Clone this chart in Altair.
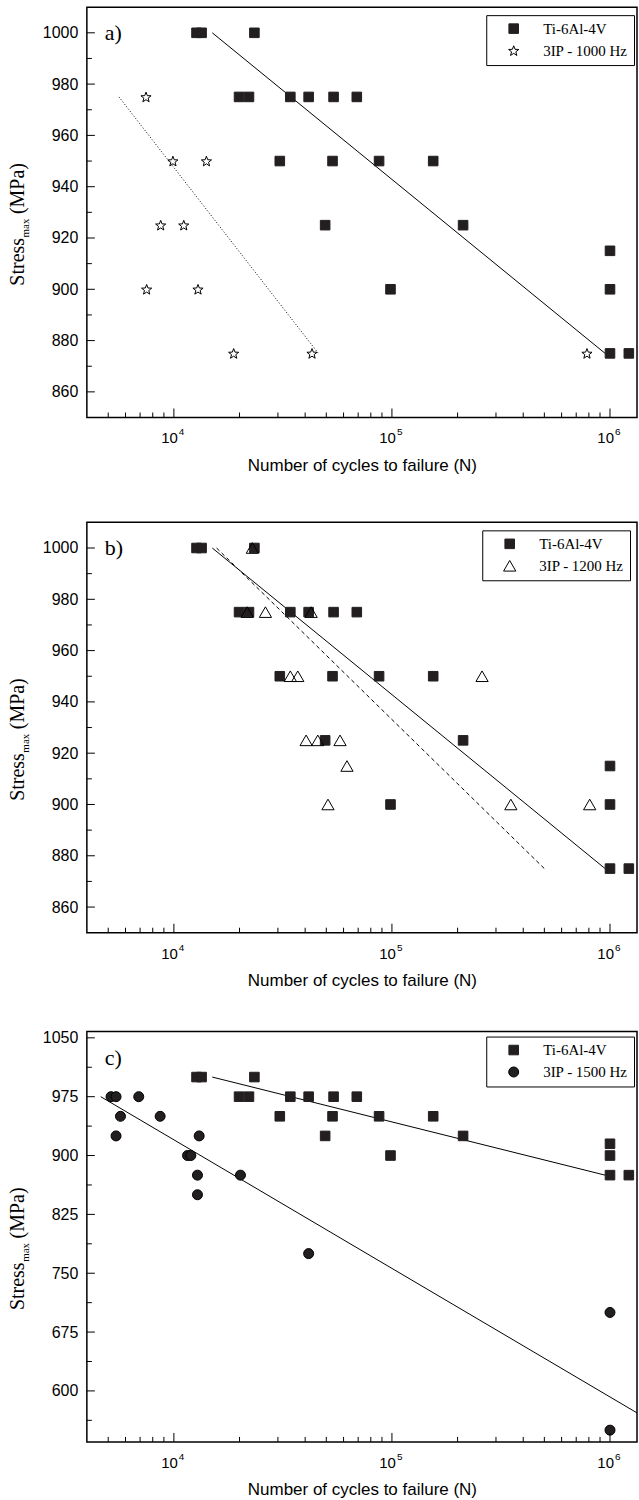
import math
import altair as alt
import pandas as pd

# ---------------- data ----------------
TI = "Ti-6Al-4V"
ti_N = [12700, 13400, 23400, 19900, 22100, 34200, 41500, 54000, 69000,
        30600, 53400, 87300, 154600, 49400, 212000, 98500,
        1000000, 1000000, 1000000, 1220000]
ti_S = [1000, 1000, 1000, 975, 975, 975, 975, 975, 975,
        950, 950, 950, 950, 925, 925, 900,
        915, 900, 875, 875]

a_label = "3IP - 1000 Hz"
a_N = [7450, 9900, 14100, 8700, 11100, 7500, 12900, 18800, 43000, 784000]
a_S = [975, 950, 950, 925, 925, 900, 900, 875, 875, 875]

b_label = "3IP - 1200 Hz"
b_N = [22900, 21700, 26300, 42600, 34200, 37000, 259000, 40400, 45700,
       57800, 62200, 50900, 351000, 807000]
b_S = [1000, 975, 975, 975, 950, 950, 950, 925, 925, 925, 915, 900, 900, 900]

c_label = "3IP - 1500 Hz"
c_N = [5150, 5430, 6900, 5690, 8650, 5430, 13060, 11550, 11960, 12830,
       20200, 12830, 41500, 1000000, 1000000]
c_S = [975, 975, 975, 950, 950, 925, 925, 900, 900, 875, 875, 850, 775, 700, 550]

# fit lines (end points)
ti_fit_N = [15000, 950000]
ti_fit_S = [1000, 875]
a_fit_N = [5600, 46000]
a_fit_S = [975, 875]
b_fit_N = [15700, 500000]
b_fit_S = [1000, 875]
c_fit_N = [4620, 1330000]
c_fit_S = [975, 572]

# axes
x_domain = [3990, 1330000]
x_major = [10000, 100000, 1000000]
x_exp = ["4", "5", "6"]
x_minor = [5000, 6000, 7000, 8000, 9000,
           20000, 30000, 40000, 50000, 60000, 70000, 80000, 90000,
           200000, 300000, 400000, 500000, 600000, 700000, 800000, 900000]

ab_domain = [850, 1010]
ab_major = [860, 880, 900, 920, 940, 960, 980, 1000]
ab_minor = [870, 890, 910, 930, 950, 970, 990]
c_domain = [535, 1058]
c_major = [600, 675, 750, 825, 900, 975, 1050]
c_minor = [562.5, 637.5, 712.5, 787.5, 862.5, 937.5, 1012.5]

# ---------------- styling ----------------
W, H = 551, 411
DARK = "#231f20"
SANS = "Liberation Sans"
SERIF = "Liberation Serif"
XTITLE = "Number of cycles to failure (N)"


def star_path():
    pts = []
    for k in range(10):
        ang = math.radians(-90 + 36 * k)
        r = 1.0 if k % 2 == 0 else 0.42
        pts.append(f"{r * math.cos(ang):.3f},{r * math.sin(ang) + 0.1:.3f}")
    return "M" + "L".join(pts) + "Z"


STAR = star_path()


def make_legend(lx, ly):
    return alt.Legend(title=" ", titleOrient="left", titlePadding=14, titleFontSize=8,
                      orient="none", legendX=lx, legendY=ly,
                      fillColor="white", strokeColor="black", padding=6,
                      labelFont=SERIF, labelFontSize=15, labelFontWeight="normal",
                      labelColor="black",
                      symbolStrokeColor=DARK, symbolStrokeWidth=1, symbolSize=100,
                      rowPadding=6, labelOffset=22)


def panel(letter, s_N, s_S, s_label, s_shape, s_fill, s_size, fit_N, fit_S, dash,
          ydom, ymaj, ymin, legend):
    xs = alt.Scale(type="log", domain=x_domain, nice=False)
    ys = alt.Scale(domain=ydom, nice=False, zero=False)
    xax = alt.Axis(labels=False, ticks=False, domain=False, grid=False,
                   title=XTITLE, titleFont=SANS, titleFontSize=17,
                   titleFontWeight="normal", titleColor="black", titlePadding=40)
    yax = alt.Axis(values=ymaj, ticks=False, domain=False, grid=False, title=None,
                   format="d", labelFont=SANS, labelFontSize=16, labelColor="black",
                   labelPadding=9)

    def X(f="N"):
        return alt.X(f"{f}:Q", scale=xs, axis=xax)

    def Y(f="S"):
        return alt.Y(f"{f}:Q", scale=ys, axis=yax)

    df = pd.DataFrame({
        "N": ti_N + s_N,
        "S": ti_S + s_S,
        "series": [TI] * len(ti_N) + [s_label] * len(s_N),
        "order": list(range(len(ti_N) + len(s_N))),
    })
    dom = [TI, s_label]
    pts = alt.Chart(df).mark_point(opacity=1, fillOpacity=1, strokeWidth=1).encode(
        x=X(), y=Y(),
        shape=alt.Shape("series:N", scale=alt.Scale(domain=dom, range=["square", s_shape]),
                        legend=legend),
        fill=alt.Fill("series:N", scale=alt.Scale(domain=dom, range=[DARK, s_fill]),
                      legend=legend),
        stroke=alt.Stroke("series:N", scale=alt.Scale(domain=dom, range=[DARK, "black"]),
                          legend=legend),
        size=alt.Size("series:N", scale=alt.Scale(domain=dom, range=[92, s_size]),
                      legend=legend),
        order=alt.Order("order:Q"),
    )

    fit_ti = alt.Chart(pd.DataFrame({"N": ti_fit_N, "S": ti_fit_S})).mark_line(
        color="black", strokeWidth=1, clip=True).encode(x=X(), y=Y())
    fit_s_kw = dict(color="black", strokeWidth=1, clip=True)
    if dash:
        fit_s_kw["strokeDash"] = dash
    fit_s = alt.Chart(pd.DataFrame({"N": fit_N, "S": fit_S})).mark_line(
        **fit_s_kw).encode(x=X(), y=Y())

    # inward ticks
    xt_maj = alt.Chart(pd.DataFrame({"N": x_major})).mark_rule(
        color="black", strokeWidth=1).encode(x=X(), y=alt.value(H), y2=alt.value(H - 9))
    xt_min = alt.Chart(pd.DataFrame({"N": x_minor})).mark_rule(
        color="black", strokeWidth=1).encode(x=X(), y=alt.value(H), y2=alt.value(H - 5))
    yt_maj = alt.Chart(pd.DataFrame({"S": ymaj})).mark_rule(
        color="black", strokeWidth=1).encode(y=Y(), x=alt.value(0), x2=alt.value(8))
    yt_min = alt.Chart(pd.DataFrame({"S": ymin})).mark_rule(
        color="black", strokeWidth=1).encode(y=Y(), x=alt.value(0), x2=alt.value(5))

    # x tick labels 10^n
    xl = pd.DataFrame({"N": x_major, "base": ["10"] * 3, "exp": x_exp})
    xl_base = alt.Chart(xl).mark_text(align="right", baseline="alphabetic", dx=4,
                                      font=SANS, fontSize=15, color="black").encode(
        x=X(), y=alt.value(H + 26), text="base:N")
    xl_exp = alt.Chart(xl).mark_text(align="left", baseline="alphabetic", dx=5,
                                     font=SANS, fontSize=10, color="black").encode(
        x=X(), y=alt.value(H + 18), text="exp:N")

    # y title Stress_max (MPa)
    F, f = 20, 11
    w_stress = 2.389 * F
    w_max = 1.722 * f
    w_sp = 0.25 * F
    w_mpa = 2.555 * F
    L = w_stress + w_max + w_sp + w_mpa
    yb = H / 2 + 12 + L / 2
    tx = -63
    t1 = alt.Chart(pd.DataFrame({"t": ["Stress"]})).mark_text(
        align="left", baseline="alphabetic", angle=270, font=SERIF, fontSize=F,
        color="black").encode(text="t:N", x=alt.value(tx), y=alt.value(yb))
    t2 = alt.Chart(pd.DataFrame({"t": ["max"]})).mark_text(
        align="left", baseline="alphabetic", angle=270, font=SERIF, fontSize=f,
        dy=5, color="black").encode(text="t:N", x=alt.value(tx),
                                    y=alt.value(yb - w_stress - 0.5))
    t3 = alt.Chart(pd.DataFrame({"t": ["(MPa)"]})).mark_text(
        align="left", baseline="alphabetic", angle=270, font=SERIF, fontSize=F,
        color="black").encode(text="t:N", x=alt.value(tx),
                              y=alt.value(yb - w_stress - w_max - w_sp))

    lab = alt.Chart(pd.DataFrame({"t": [letter]})).mark_text(
        align="left", baseline="alphabetic", font=SERIF, fontSize=22,
        color="black").encode(text="t:N", x=alt.value(18), y=alt.value(33))

    return alt.layer(fit_ti, fit_s, pts, xt_maj, xt_min, yt_maj, yt_min,
                     xl_base, xl_exp, t1, t2, t3, lab).properties(width=W, height=H)


pa = panel("a)", a_N, a_S, a_label, STAR, "transparent", 115, a_fit_N, a_fit_S, [1, 2],
           ab_domain, ab_major, ab_minor, make_legend(400, 8))
pb = panel("b)", b_N, b_S, b_label, "triangle-up", "transparent", 150, b_fit_N, b_fit_S,
           [4, 3], ab_domain, ab_major, ab_minor, make_legend(396, 8))
pc = panel("c)", c_N, c_S, c_label, "circle", DARK, 100, c_fit_N, c_fit_S, None,
           c_domain, c_major, c_minor, make_legend(400, 5))

res = dict(shape="independent", fill="independent", stroke="independent",
           size="independent")
top = alt.vconcat(pa, pb, spacing=47).resolve_scale(**res).resolve_legend(**res)
chart = alt.vconcat(top, pc, spacing=39).resolve_scale(**res).resolve_legend(**res)

chart = chart.properties(
    padding={"left": 7, "top": 5, "right": 1, "bottom": 2},
    background="white",
).configure_view(stroke="black", strokeWidth=1.5)

chart.save("out.html", embed_options={"renderer": "svg", "actions": False})
